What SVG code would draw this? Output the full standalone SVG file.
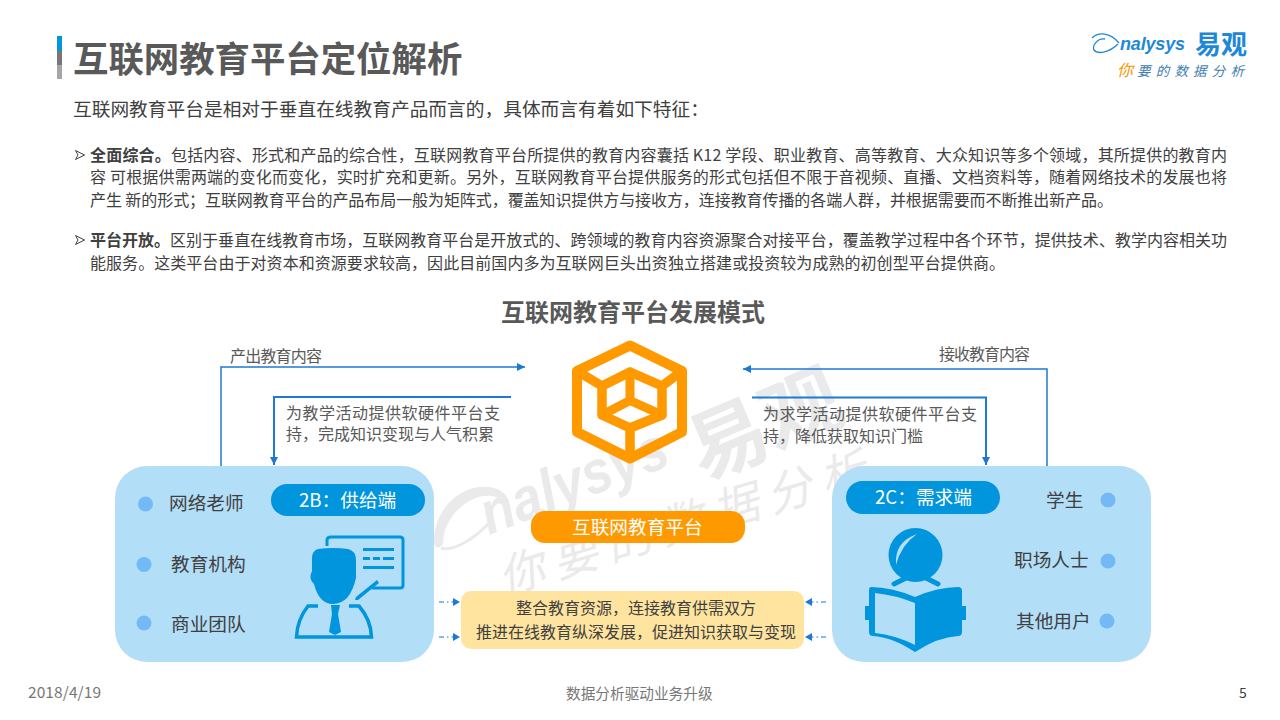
<svg xmlns="http://www.w3.org/2000/svg" width="1280" height="720" viewBox="0 0 1280 720">
<style>
text{font-family:"Noto Sans CJK SC","Liberation Sans",sans-serif;fill:#595959}
.b16{font-size:16px;fill:#404040}
.lab{font-size:16px;fill:#595959}
.item{font-size:18.67px;fill:#404040}
.wm{fill:#eaeaea}
.conn{fill:none;stroke:#1F78D1;stroke-width:1.5}
.dash{fill:none;stroke:#5BA8E6;stroke-width:1.5;stroke-dasharray:5 3 1.5 3}
.dot{fill:#73B9F5}
.box{fill:#B3DEF7}
.ic{fill:#0095DD}
.ics{fill:none;stroke:#0095DD}
.cube{fill:none;stroke:#FF9900;stroke-linejoin:round;stroke-linecap:round}
.bul{fill:#fff;stroke:#404040;stroke-width:1}
</style>
<defs>
<marker id="ah" markerWidth="9" markerHeight="9" refX="8" refY="4" orient="auto" markerUnits="userSpaceOnUse"><path d="M0 0L8 4L0 8Z" fill="#1F78D1"/></marker>
</defs>
<g id="watermark">
<path class="wm" d="M434 541C434 510 460 484 488 487C500 488 507 494 509 502C497 495 484 493 471 500C454 509 443 526 443 544C439 550 434 548 434 541Z"/>
<path d="M441 548C452 552 474 540 492 520" fill="none" stroke="#eaeaea" stroke-width="3"/>
<text class="wm" transform="translate(489 535) rotate(-21)" font-size="60" font-style="italic" font-weight="700" textLength="197" lengthAdjust="spacingAndGlyphs" style="font-family:'Liberation Sans',sans-serif">nalysys</text>
<text class="wm" transform="translate(703 481) rotate(-23)" font-size="79" font-weight="700">易观</text>
<text class="wm" transform="translate(504 595) rotate(-17)" font-size="46" font-style="italic" letter-spacing="10">你要的数据分析</text>
</g>
<g id="header">
<rect x="57" y="36" width="5" height="15" fill="#0095DD"/><rect x="57" y="51" width="5" height="14" fill="#777"/><rect x="57" y="65" width="5" height="14" fill="#A6A6A6"/>
<text x="73" y="72" font-size="35.4" font-weight="700">互联网教育平台定位解析</text>
<text x="73" y="116" font-size="18.72" style="fill:#404040">互联网教育平台是相对于垂直在线教育产品而言的，具体而言有着如下特征：</text>
</g>
<g id="logo">
<path d="M1092 38C1098 32 1110 32 1119 43M1105 39C1097 38 1092 46 1094 50C1098 55 1110 52 1118 44" fill="none" stroke="#1E88D8" stroke-width="1.3"/>
<text x="1120" y="50" font-size="18" font-style="italic" font-weight="700" textLength="65" style="font-family:'Liberation Sans',sans-serif;fill:#1E88D8">nalysys</text>
<text x="1195" y="54" font-size="26" font-weight="700" style="fill:#1E88D8">易观</text>
<text x="1117" y="76" font-size="16" font-style="italic" style="fill:#F39800">你</text>
<text x="1137" y="76" font-size="13.500" font-style="italic" letter-spacing="5.200" style="fill:#3F7FB0">要的数据分析</text>
</g>
<g id="bullets">
<path class="bul" d="M75.500 150.500L84.500 155L75.500 159.500L78 155Z"/>
<text class="b16" x="90" y="161" textLength="1137"><tspan font-weight="700">全面综合。</tspan>包括内容、形式和产品的综合性，互联网教育平台所提供的教育内容囊括 K12 学段、职业教育、高等教育、大众知识等多个领域，其所提供的教育内</text>
<text class="b16" x="90" y="183" textLength="1137">容 可根据供需两端的变化而变化，实时扩充和更新。另外，互联网教育平台提供服务的形式包括但不限于音视频、直播、文档资料等，随着网络技术的发展也将</text>
<text class="b16" x="90" y="206" textLength="1023">产生 新的形式；互联网教育平台的产品布局一般为矩阵式，覆盖知识提供方与接收方，连接教育传播的各端人群，并根据需要而不断推出新产品。</text>
<path class="bul" d="M75.500 235.500L84.500 240L75.500 244.500L78 240Z"/>
<text class="b16" x="90" y="246" textLength="1137"><tspan font-weight="700">平台开放。</tspan>区别于垂直在线教育市场，互联网教育平台是开放式的、跨领域的教育内容资源聚合对接平台，覆盖教学过程中各个环节，提供技术、教学内容相关功</text>
<text class="b16" x="90" y="269" textLength="915">能服务。这类平台由于对资本和资源要求较高，因此目前国内多为互联网巨头出资独立搭建或投资较为成熟的初创型平台提供商。</text>
</g>
<text id="diagram-title" x="501" y="321" font-size="24" font-weight="700">互联网教育平台发展模式</text>
<g id="connectors">
<path class="conn" d="M221 466V367H525" marker-end="url(#ah)"/>
<path class="conn" style="stroke-width:2" d="M511 397H274V465" marker-end="url(#ah)"/>
<path class="conn" d="M1047 466V369H743" marker-end="url(#ah)"/>
<path class="conn" style="stroke-width:2" d="M752 397.500H986V465" marker-end="url(#ah)"/>
<path class="dash" d="M439 602H454"/><path d="M453 598L460 602L453 606Z" fill="#1F78D1"/>
<path class="dash" d="M439 637H454"/><path d="M453 633L460 637L453 641Z" fill="#1F78D1"/>
<path class="dash" d="M826 602H811"/><path d="M812 598L805 602L812 606Z" fill="#1F78D1"/>
<path class="dash" d="M826 637H811"/><path d="M812 633L805 637L812 641Z" fill="#1F78D1"/>
</g>
<g id="connector-labels">
<text class="lab" x="230" y="362" textLength="92">产出教育内容</text>
<text class="lab" x="939" y="360" textLength="91">接收教育内容</text>
<text class="lab"><tspan x="286" y="419" textLength="214">为教学活动提供软硬件平台支</tspan><tspan x="286" y="440">持，完成知识变现与人气积累</tspan></text>
<text class="lab"><tspan x="763" y="420" textLength="214">为求学活动提供软硬件平台支</tspan><tspan x="763" y="442">持，降低获取知识门槛</tspan></text>
</g>
<g id="platform-icon">
<path class="cube" stroke-width="10" d="M630 345.500L682 371V432L630 458.500L577 432V371Z"/>
<path class="cube" stroke-width="9.500" d="M577 371L602 386L630 372L662 386L682 371M602 386V415L630 428L662 415V386M630 428V458"/>
<path class="cube" stroke-width="9" d="M630 372V400.500M602 415L630 400.500L662 415"/>
</g>
<g id="supply">
<rect class="box" x="115" y="466" width="319" height="196" rx="32"/>
<rect class="ic" x="271" y="484" width="154" height="32" rx="16"/>
<text x="299" y="507" font-size="18.67" style="fill:#fff">2B：供给端</text>
<circle class="dot" cx="145.500" cy="504" r="7.500"/><circle class="dot" cx="144" cy="564.500" r="7.500"/><circle class="dot" cx="144" cy="623" r="7.500"/>
<text class="item" x="169" y="510">网络老师</text>
<text class="item" x="171" y="571">教育机构</text>
<text class="item" x="171" y="631">商业团队</text>
<path class="ics" stroke-width="3" d="M327 546V540Q327 537 331 537H400Q403 537 403 540V585Q403 588 400 588H372"/>
<path class="ic" d="M377 580L379 583L358 600L355 600L356 597Z"/>
<path class="ic" d="M363 548H394V551H363ZM363 557H370V560H363ZM373 557H380V560H373ZM383 557H394V560H383ZM363 566H394V569H363Z"/>
<path class="ic" d="M318 549Q333 547 348 549Q356 551 356 560V578Q350 604 333 604Q319 604 314 584Q308 579 312 571V558Q312 551 318 549Z"/>
<path class="ics" stroke-width="3.500" d="M318 606H308Q297 620 296.500 637H371.500Q371 620 359 606H349"/>
<path class="ic" d="M331 605H340L338 614L341 632L335 635L329 632L332 614Z"/>
</g>
<g id="demand">
<rect class="box" x="832" y="466" width="319" height="196" rx="32"/>
<rect class="ic" x="846" y="481" width="154" height="33" rx="16.500"/>
<text x="875" y="504" font-size="18.67" style="fill:#fff">2C：需求端</text>
<circle class="dot" cx="1108" cy="500" r="7.500"/><circle class="dot" cx="1108" cy="561" r="7.500"/><circle class="dot" cx="1107" cy="621" r="7.500"/>
<text class="item" x="1046" y="507">学生</text>
<text class="item" x="1014" y="567">职场人士</text>
<text class="item" x="1016" y="628">其他用户</text>
<circle class="ic" cx="915.500" cy="555" r="27"/>
<path d="M896 565Q894 542 917 534Q901 545 896 565Z" fill="#B3DEF7"/>
<path class="ics" stroke-width="5" stroke-linecap="round" d="M894 584L906 578M938 584L926 578"/>
<path class="ic" d="M871 587Q891 587 915 597Q938 587 958 587Q962 587 962 591V606H966V620H962V632Q962 636 958 636Q938 637 915 652Q892 637 873 636Q869 636 869 632V620H865V606H869V591Q869 587 871 587Z"/>
<path class="box" d="M875 593Q895 595 915 603V645Q895 635 875 633Z"/>
</g>
<g id="platform">
<rect x="531" y="511" width="214" height="32" rx="14" fill="#FF9900"/>
<text x="572" y="534" font-size="18.67" style="fill:#fff">互联网教育平台</text>
</g>
<g id="value">
<rect x="461" y="591" width="343" height="58" rx="10" fill="#FEE49E"/>
<text class="lab" x="516" y="614" style="fill:#404040">整合教育资源，连接教育供需双方</text>
<text class="lab" x="476" y="638" style="fill:#404040">推进在线教育纵深发展，促进知识获取与变现</text>
</g>
<g id="footer">
<text x="28" y="698" font-size="15.500" textLength="73" style="fill:#777">2018/4/19</text>
<text x="566" y="699" font-size="14.67" style="fill:#777">数据分析驱动业务升级</text>
<text x="1239" y="698" font-size="14" style="fill:#404040">5</text>
</g>
</svg>
